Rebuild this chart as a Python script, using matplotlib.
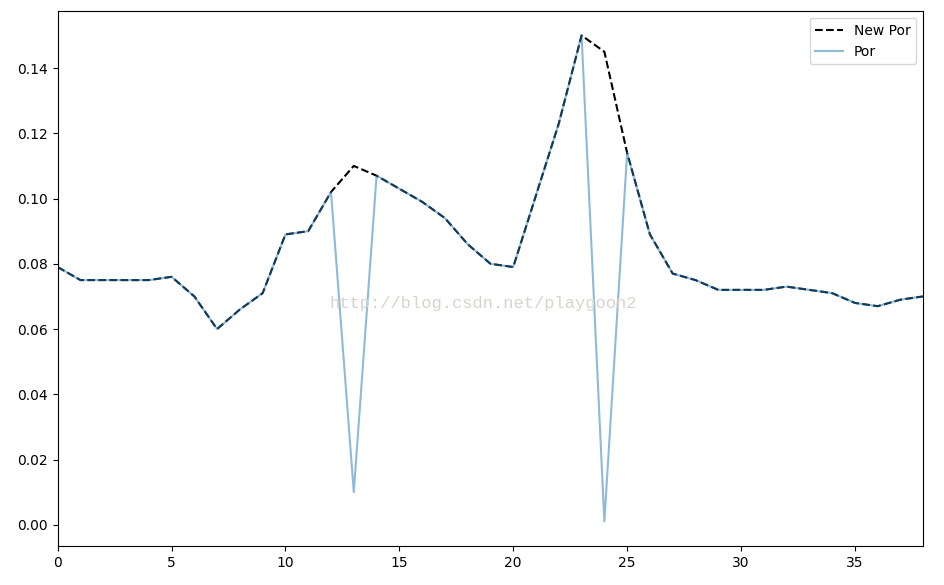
import numpy as np
import matplotlib
matplotlib.use("Agg")
import matplotlib.pyplot as plt

x = np.arange(39)
new_por = [0.079, 0.075, 0.075, 0.075, 0.075, 0.076, 0.070, 0.060, 0.066, 0.071,
           0.089, 0.090, 0.102, 0.110, 0.107, 0.103, 0.099, 0.094, 0.086, 0.080,
           0.079, 0.101, 0.123, 0.150, 0.145, 0.114, 0.089, 0.077, 0.075, 0.072,
           0.072, 0.072, 0.073, 0.072, 0.071, 0.068, 0.067, 0.069, 0.070]
por = list(new_por)
por[13] = 0.010
por[24] = 0.001

fig = plt.figure(figsize=(9.45, 5.85), dpi=100)
ax = fig.add_axes([0.061, 0.067, 0.916, 0.914])

ax.plot(x, new_por, 'k--', label='New Por')
ax.plot(x, por, color='tab:blue', alpha=0.5, label='Por')
ax.set_xlim(0, 38)
ax.legend(loc='upper right')

# watermark
fig.text(0.5115, 0.482, 'http://blog.csdn.net/playgoon2', family='Liberation Mono',
         fontsize=12.3, color='#d6d4cc', ha='center', va='center')

fig.savefig('out.png', dpi=100)
